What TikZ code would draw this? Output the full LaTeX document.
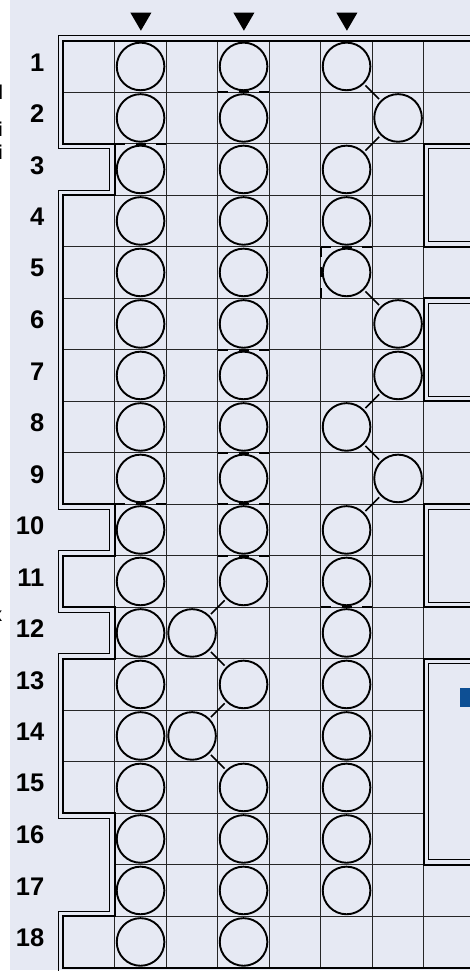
\documentclass[tikz,border=0pt]{standalone}
\usepackage{fontspec}
\setmainfont{Liberation Sans}
\definecolor{bgc}{RGB}{230,233,243}
\definecolor{seatblue}{RGB}{13,79,148}
\begin{document}
\begin{tikzpicture}[x=1pt,y=-1pt,
  thinline/.style={line width=1pt, draw=black!85},
  thickline/.style={line width=2.2pt, draw=black},
  outl/.style={line width=1.1pt, draw=black},
  seat/.style={circle, draw=black, line width=1.9pt, minimum size=47.6pt, inner sep=0pt},
  diag/.style={line width=1.6pt, shorten <=2pt, shorten >=2pt},
  rownum/.style={font=\fontsize{25.5}{27}\selectfont\bfseries, anchor=east, inner sep=0pt},
  dsh/.style={line width=2.4pt, dash pattern=on 10pt off 10.75pt on 10pt off 10.75pt},
  frag/.style={font=\fontsize{20}{22}\selectfont\bfseries, anchor=east, inner sep=0pt}
]
\useasboundingbox (0,0) rectangle (470,971);
\fill[white] (0,0) rectangle (470,971);
\fill[bgc] (10.3,0) rectangle (470,970);
% cut-off text fragments on the left edge
\begin{scope}
\clip (0,0) rectangle (10.3,971);
\node[frag] (f1) at (3.5,92) {l};
\node[frag] (f2) at (3.2,129) {i};
\node[frag] (f3) at (3.2,152) {i};
\node[frag] (f4) at (2.5,616) {x};
\end{scope}
% column markers
\foreach \cx [count=\i] in {140.9,243.9,346.9}
  \fill (\cx-10.5,12.7) -- (\cx+10.5,12.7) -- (\cx,30.7) -- cycle;
% row numbers
\foreach \r in {1,...,18}
  \node[rownum] (n\r) at (44.5,{40.7+(\r-0.5)*51.5-4.2}) {\r};
\begin{scope}[shift={(63.3pt,-40.7pt)}, x=51.5pt, y=-51.5pt]
\def\dd{0.097}
% grid
\foreach \r in {1,...,17} \draw[thinline] (1,\r) -- (7,\r);
\foreach \r in {1,8,17} \draw[thinline] (7,\r) -- (8.6,\r);
\foreach \c in {1,...,7} \draw[thinline] (\c,0) -- (\c,18);
\foreach \r in {1,4,5,6,7,8,13,14} \draw[thinline] (0,\r) -- (1,\r);
% boxes in the last column
\foreach \a/\b in {2/4,5/7,9/11,12/16} {
  \draw[thickline] (8.6,\a) -- (7,\a) -- (7,\b) -- (8.6,\b);
  \draw[outl] (8.6,\a+\dd) -- (7+\dd,\a+\dd) -- (7+\dd,\b-\dd) -- (8.6,\b-\dd);
}
\fill[seatblue] (7.7,12.57) rectangle (8.05,12.93);
% outline
\draw[thickline] (8.6,0) -- (0,0) -- (0,2) -- (1,2) -- (1,3) -- (0,3) -- (0,9) -- (1,9) -- (1,10) -- (0,10) -- (0,11) -- (1,11) -- (1,12) -- (0,12) -- (0,15) -- (1,15) -- (1,17) -- (0,17) -- (0,18) -- (8.6,18);
\draw[outl] (8.6,-\dd) -- (-\dd,-\dd) -- (-\dd,2+\dd) -- (1-\dd,2+\dd) -- (1-\dd,3-\dd) -- (-\dd,3-\dd) -- (-\dd,9+\dd) -- (1-\dd,9+\dd) -- (1-\dd,10-\dd) -- (-\dd,10-\dd) -- (-\dd,11+\dd) -- (1-\dd,11+\dd) -- (1-\dd,12-\dd) -- (-\dd,12-\dd) -- (-\dd,15+\dd) -- (1-\dd,15+\dd) -- (1-\dd,17-\dd) -- (-\dd,17-\dd) -- (-\dd,18+\dd);
% dashed thick segments
\draw[dsh] (3,1) -- (4,1);
\draw[dsh] (1,2) -- (2,2);
\draw[dsh] (5,4) -- (6,4);
\draw[dsh] (5,4) -- (5,5);
\draw[dsh] (3,6) -- (4,6);
\draw[dsh] (3,8) -- (4,8);
\draw[dsh] (1,9) -- (2,9);
\draw[dsh] (3,9) -- (4,9);
\draw[dsh] (3,10) -- (4,10);
\draw[dsh] (5,11) -- (6,11);
% seats
\foreach \r in {1,...,18} \node[seat] (a\r) at (1.5,\r-0.5) {};
\foreach \r/\c in {1/3.5,2/3.5,3/3.5,4/3.5,5/3.5,6/3.5,7/3.5,8/3.5,9/3.5,10/3.5,11/3.5,12/2.5,13/3.5,14/2.5,15/3.5,16/3.5,17/3.5,18/3.5}
  \node[seat] (b\r) at (\c,\r-0.5) {};
\foreach \r/\c in {1/5.5,2/6.5,3/5.5,4/5.5,5/5.5,6/6.5,7/6.5,8/5.5,9/6.5,10/5.5,11/5.5,12/5.5,13/5.5,14/5.5,15/5.5,16/5.5,17/5.5}
  \node[seat] (c\r) at (\c,\r-0.5) {};
% connectors
\foreach \p/\q in {1/2,2/3,5/6,7/8,8/9,9/10} \draw[diag] (c\p) -- (c\q);
\foreach \p/\q in {11/12,12/13,13/14,14/15} \draw[diag] (b\p) -- (b\q);
\end{scope}
\end{tikzpicture}
\end{document}
